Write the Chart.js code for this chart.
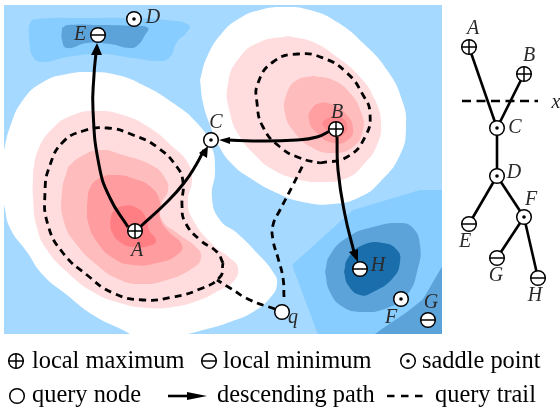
<!DOCTYPE html>
<html><head><meta charset="utf-8">
<style>html,body{margin:0;padding:0;background:#fff}canvas{display:block}</style>
<script src="https://cdn.jsdelivr.net/npm/chart.js@4/dist/chart.umd.min.js"></script>
</head><body><canvas id="c" width="560" height="407"></canvas>
<script>
// Contour bands
const fieldBox = [[4,5],[442,5],[442,334],[4,334]];
const blueTop1 = [[29,40],[30,23],[38,19],[83,18],[133,18],[167,20],[189,25],[187,32],[177,42],[170,57],[160,61],[133,58],[100,54],[67,57],[43,62],[33,57]];
const blueTop2 = [[62,28],[68,25],[100,25],[133,26],[148,28],[145,35],[138,45],[130,48],[110,44],[87,43],[67,48],[62,40]];
const blueRight1 = [[292,265],[353,210],[420,190],[450,190],[450,340],[320,340]];
const blueRight2 = [[450,262],[442,267],[433,282],[423,299],[407,312],[375,334],[372,340],[450,340]];
const blueCore1 = [[325,272],[330,255],[348,237],[373,227],[400,223],[413,228],[420,245],[418,268],[407,295],[387,308],[363,312],[343,307],[330,292]];
const blueCore2 = [[344,272],[348,258],[363,245],[383,243],[397,250],[400,262],[393,278],[373,292],[360,295],[348,285]];
const whiteA = [[-2,175],[4,150],[10,127],[23,100],[43,82],[67,74],[90,72],[117,75],[143,85],[173,103],[197,123],[211,145],[215,170],[212,198],[220,220],[237,233],[257,253],[273,272],[277,284],[270,298],[253,312],[230,322],[207,329],[175,336],[140,338],[123,330],[93,315],[67,295],[43,275],[27,252],[10,228],[4,205],[0,190]];
const whiteB = [[200,80],[207,57],[222,33],[240,18],[260,10],[283,7],[310,10],[337,22],[363,43],[387,70],[402,100],[406,127],[400,155],[380,182],[360,197],[333,204],[303,202],[277,193],[250,178],[233,165],[220,148],[210,125],[203,103]];
const pinkA1 = [[33,172],[38,150],[53,128],[73,115],[97,111],[123,115],[150,128],[173,147],[188,163],[192,180],[188,200],[192,218],[213,245],[230,258],[238,268],[233,282],[218,291],[200,300],[173,307],[147,308],[120,303],[93,292],[67,272],[47,250],[37,228],[33,198]];
const pinkA2 = [[68,167],[80,157],[100,150],[123,155],[153,166],[165,178],[168,190],[161,205],[162,220],[177,233],[197,248],[201,258],[193,268],[167,280],[140,284],[118,279],[97,265],[77,245],[64,222],[62,192]];
const pinkA3 = [[87,205],[90,188],[100,178],[115,175],[135,179],[152,188],[160,202],[160,218],[168,231],[182,245],[177,255],[157,263],[133,265],[113,258],[97,242],[88,222]];
const pinkA4 = [[110,223],[113,212],[123,206],[137,208],[146,218],[149,230],[156,240],[152,245],[133,247],[120,242],[112,232]];
const pinkB1 = [[288,36],[260,42],[240,57],[228,83],[230,113],[240,137],[257,157],[270,168],[293,178],[320,182],[347,178],[365,163],[377,145],[381,123],[375,100],[360,77],[337,57],[313,42]];
const pinkB2 = [[313,76],[297,80],[287,93],[285,113],[295,133],[313,148],[333,153],[353,147],[363,130],[361,112],[350,93],[333,80]];
const pinkB3 = [[323,102],[313,107],[309,120],[317,133],[333,143],[348,140],[353,128],[345,113],[333,105]];
const pinkB4 = [[332,116],[323,122],[325,128],[335,137],[345,133],[347,125],[342,118]];

// Query trails
const trailLoopA = [[223,263],[217,252],[200,240],[185,222],[182,205],[183,182],[177,167],[157,147],[133,135],[107,128],[83,131],[63,142],[50,165],[45,192],[48,225],[63,253],[87,275],[113,293],[143,300],[173,297],[200,289],[220,277],[223,263]];
const trailToA = [[275,309],[250,300],[230,288],[217,280]];
const trailLoopB = [[320,163],[347,157],[365,137],[370,113],[363,95],[347,73],[323,58],[298,54],[273,62],[258,83],[257,103],[263,127],[280,147],[300,158],[320,163]];
const trailToB = [[284,297],[283,278],[278,258],[273,240],[273,225],[280,210],[293,185],[303,165]];

// Descending paths
const pathAE = [[128,227],[110,198],[99,165],[93,110],[94,75],[96,53]];
const pathAC = [[140,227],[167,202],[184,183],[196,165],[204,150]];
const pathBC = [[330,131],[317,137],[297,140],[253,141],[228,140]];
const pathBH = [[337,137],[338,170],[345,215],[354,252]];
const headE = [[97,43],[91,55],[102,55]];
const headC = [[208,146],[199,153],[207,158]];
const headB = [[219,140],[230,137],[230,144]];
const headH = [[358,262],[349,252],[358,249]];

// Node markers
const maxNodes = [[135,231],[336,129],[469,47],[524,74]];
const minNodes = [[98,35],[360,269],[428,320],[469,224],[497,258],[538,278]];
const saddleNodes = [[211,140],[134,19],[401,299],[497,128],[497,176],[524,217]];
const queryNodes = [[282,312]];

// Tree
const treeEdges = [
  [[469,47],[497,128]],[[524,74],[497,128]],[[497,128],[497,176]],
  [[497,176],[469,224]],[[497,176],[524,217]],[[524,217],[497,258]],[[524,217],[538,278]]];
const treeCut = [[462,101],[538,101]];

// Legend glyphs
const legendMax = [[16,361]], legendMin = [[209,361]], legendSaddle = [[408,361]], legendQuery = [[17,396]];
const legendArrow = [[168,396],[190,396]];
const legendHead = [[207,396],[187,392],[187,400]];
const legendDash = [[387,396],[423,396]];

// Text
const nodeLabels = [['A',137,251],['B',337,113],['C',216,123],['D',153,18],['E',80,35],['F',391,318],['G',431,303],['H',378,266],['q',293,318],
  ['A',473,29],['B',529,56],['C',515,128],['x',556,103],['D',514,173],['E',465,242],['F',531,200],['G',496,276],['H',535,296]];
const legendLabels = [['local maximum',32,368],['local minimum',223,368],['saddle point',422,368],['query node',32,402],['descending path',217,402],['query trail',435,402]];

const SERIF = '"Liberation Serif","Times New Roman",Times,serif';
const xy = p => p.map(([x,y]) => ({x,y}));
const ds = [];
const poly = (pts,color,tension=0.5) => ds.push({type:'scatter',data:xy(tension? pts.concat([pts[0]]):pts),showLine:true,fill:'shape',backgroundColor:color,borderColor:color,borderWidth:tension?0.01:0,tension,pointRadius:0,clip:false});
const line = (pts,w,dash,tension=0.5,cap='butt') => ds.push({type:'scatter',data:xy(pts),showLine:true,fill:false,borderColor:'#000',borderWidth:w,borderDash:dash||[],borderCapStyle:cap,tension,pointRadius:0,clip:false});
const pts = (p,style,r,opt={}) => ds.push(Object.assign({type:'scatter',data:xy(p),showLine:false,pointStyle:style,pointRadius:r,pointHoverRadius:r,pointBorderColor:'#000',pointBorderWidth:1.5,pointBackgroundColor:'#fff',clip:false},opt));

poly(fieldBox,'#a6d9ff',0);
poly(blueTop1,'#87cdff'); poly(blueTop2,'#5ca3d9');
poly(blueRight1,'#87cdff',0); poly(blueRight2,'#5ca3d9',0.1);
poly(blueCore1,'#5ca3d9'); poly(blueCore2,'#1a6eab');
poly(whiteA,'#ffffff'); poly(whiteB,'#ffffff');
poly(pinkA1,'#ffdddf'); poly(pinkA2,'#ffbcbd'); poly(pinkA3,'#ff9c9f'); poly(pinkA4,'#ff7e83');
poly(pinkB1,'#ffdddf'); poly(pinkB2,'#ffbcbd'); poly(pinkB3,'#ff9fa2'); poly(pinkB4,'#ff8a8e');
// White frame that trims the bands to the field
poly([[-20,-20],[580,-20],[580,5],[-20,5]],'#fff',0);
poly([[-20,334],[580,334],[580,430],[-20,430]],'#fff',0);
poly([[-20,-20],[4,-20],[4,430],[-20,430]],'#fff',0);
poly([[442,-20],[580,-20],[580,430],[442,430]],'#fff',0);

const dash=[7,5];
line(trailLoopA,2.8,dash); line(trailToA,2.8,dash); line(trailLoopB,2.8,dash); line(trailToB,2.8,dash);
line(pathAE,3); line(pathAC,3); line(pathBC,3); line(pathBH,3);
[headE,headC,headB,headH].forEach(h=>poly(h,'#000',0));
treeEdges.forEach(e=>line(e,2.6,null,0));
line(treeCut,2.6,[9,5.5],0);

const nodeSet=(p,r,glyph)=>{ pts(p,'circle',r); if(glyph==='max') pts(p,'cross',r); if(glyph==='min') pts(p,'line',r); if(glyph==='sad') pts(p,'circle',1.8,{pointBackgroundColor:'#000',pointBorderWidth:0}); };
nodeSet(maxNodes,7.3,'max'); nodeSet(minNodes,7.3,'min'); nodeSet(saddleNodes,7.3,'sad'); nodeSet(queryNodes,7.3);
nodeSet(legendMax,7.3,'max'); nodeSet(legendMin,7.3,'min'); nodeSet(legendSaddle,7.3,'sad'); nodeSet(legendQuery,7.3);
line(legendArrow,2.6,null,0); poly(legendHead,'#000',0);
line(legendDash,2.6,[7.5,6.5],0);
ds.forEach((d,i)=>{d.order=ds.length-i;});

const textPlugin = {id:'texts',afterDraw(chart){
  const {ctx,scales:{x,y}}=chart; ctx.save(); ctx.textAlign='center'; ctx.textBaseline='middle';
  ctx.fillStyle='#2a2a2a'; ctx.font='italic 20px '+SERIF;
  nodeLabels.forEach(([t,a,b])=>ctx.fillText(t,x.getPixelForValue(a),y.getPixelForValue(b)));
  ctx.textAlign='left'; ctx.textBaseline='alphabetic'; ctx.fillStyle='#000'; ctx.font='24.4px '+SERIF;
  legendLabels.forEach(([t,a,b])=>ctx.fillText(t,x.getPixelForValue(a),y.getPixelForValue(b)));
  ctx.restore();
}};

new Chart(document.getElementById('c'),{
  data:{datasets:ds},
  plugins:[textPlugin],
  options:{responsive:false,animation:false,devicePixelRatio:1,layout:{padding:0,autoPadding:false},
    events:[],
    elements:{line:{capBezierPoints:false}},
    plugins:{legend:{display:false},tooltip:{enabled:false},title:{display:false}},
    scales:{x:{type:'linear',min:0,max:560,display:false},y:{type:'linear',min:0,max:407,reverse:true,display:false}}}
});
</script></body></html>
